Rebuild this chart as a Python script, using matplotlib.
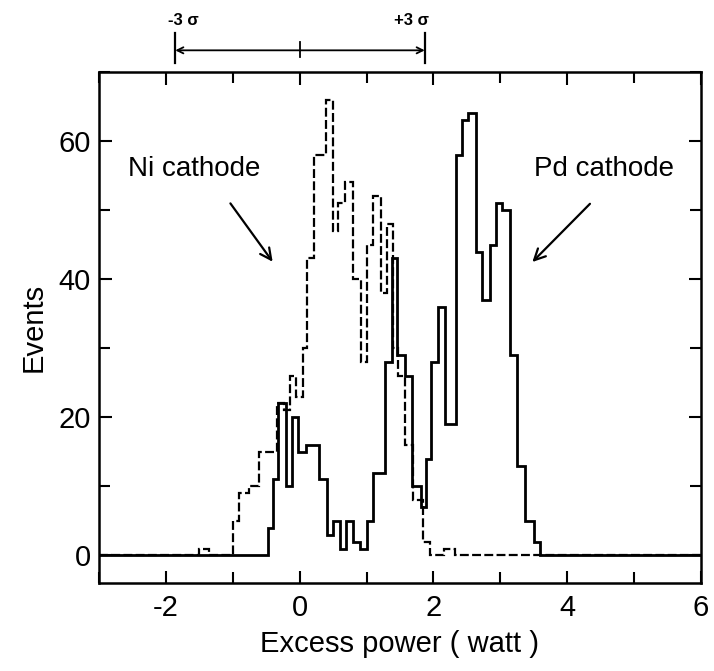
import matplotlib
matplotlib.use("Agg")
import matplotlib.pyplot as plt
import matplotlib.transforms as mtransforms
from matplotlib.ticker import MultipleLocator

plt.rcParams['font.family'] = ['Liberation Sans', 'DejaVu Sans']
plt.rcParams['axes.unicode_minus'] = False

# Ni cathode histogram (dashed) - bin edges in watt, counts per bin
ni_edges = [-3.0, -1.50, -1.36, -1.00, -0.90, -0.76, -0.61, -0.34, -0.24, -0.15,
            -0.05, 0.05, 0.11, 0.21, 0.40, 0.50, 0.58, 0.68, 0.80, 0.92,
            1.00, 1.09, 1.21, 1.30, 1.40, 1.47, 1.57, 1.70, 1.85, 1.95,
            2.16, 2.33, 6.0]
ni_counts = [0, 1, 0, 5, 9, 10, 15, 22, 21, 26,
             23, 30, 43, 58, 66, 47, 51, 54, 40, 28,
             45, 52, 38, 48, 30, 26, 16, 8, 2, 0,
             1, 0]

# Pd cathode histogram (solid)
pd_edges = [-3.0, -0.48, -0.40, -0.32, -0.21, -0.11, -0.02, 0.10, 0.29, 0.41,
            0.50, 0.60, 0.70, 0.80, 0.90, 1.01, 1.10, 1.28, 1.38, 1.46,
            1.57, 1.68, 1.81, 1.89, 1.96, 2.07, 2.18, 2.34, 2.42, 2.51,
            2.64, 2.72, 2.84, 2.93, 3.03, 3.15, 3.25, 3.37, 3.50, 3.60, 6.0]
pd_counts = [0, 4, 11, 22, 10, 20, 15, 16, 11, 3,
             5, 1, 5, 2, 1, 5, 12, 28, 43, 29,
             26, 10, 7, 14, 28, 36, 19, 58, 63, 64,
             44, 37, 45, 51, 50, 29, 13, 5, 2, 0]

sigma_lo, sigma_hi = -1.86, 1.87

fig = plt.figure(figsize=(7.14, 6.71), dpi=100)
ax = fig.add_axes([0.1387, 0.1311, 0.843, 0.7616])

ax.stairs(ni_counts, ni_edges, baseline=None, color='black', lw=1.6,
          linestyle=(0, (4, 1.5)))
ax.stairs(pd_counts, pd_edges, baseline=None, color='black', lw=2.0)

ax.set_xlim(-3, 6)
ax.set_ylim(-4, 70)
ax.xaxis.set_major_locator(MultipleLocator(2))
ax.xaxis.set_minor_locator(MultipleLocator(1))
ax.yaxis.set_major_locator(MultipleLocator(20))
ax.yaxis.set_minor_locator(MultipleLocator(10))
ax.tick_params(which='both', direction='in', top=True, right=True,
               width=1.5, labelsize=21)
ax.tick_params(which='major', length=9)
ax.tick_params(which='minor', length=8)
ax.tick_params(axis='x', pad=8)
ax.tick_params(axis='y', pad=6)
for s in ax.spines.values():
    s.set_linewidth(1.8)

ax.set_xlabel('Excess power ( watt )', fontsize=21, labelpad=6)
ax.set_ylabel('Events', fontsize=21, labelpad=8)

# labels with arrows
ax.text(-1.57, 56, 'Ni cathode', fontsize=20, ha='center', va='center')
ax.text(4.55, 56, 'Pd cathode', fontsize=20, ha='center', va='center')
ax.annotate('', xy=(-0.38, 42.2), xytext=(-1.06, 51.3),
            arrowprops=dict(arrowstyle='->', lw=1.6, color='black',
                            mutation_scale=20))
ax.annotate('', xy=(3.45, 42.2), xytext=(4.37, 51.2),
            arrowprops=dict(arrowstyle='->', lw=1.6, color='black',
                            mutation_scale=20))

# +-3 sigma bracket above the axes
trans = mtransforms.blended_transform_factory(ax.transData, fig.transFigure)
y_br = 0.925
ax.annotate('', xy=(sigma_lo, y_br), xytext=(sigma_hi, y_br),
            xycoords=trans, textcoords=trans,
            arrowprops=dict(arrowstyle='<->', lw=1.3, color='black',
                            shrinkA=0, shrinkB=0, mutation_scale=11),
            annotation_clip=False)
for xv in (sigma_lo, sigma_hi):
    ax.plot([xv, xv], [0.906, 0.951], color='black', lw=1.6,
            transform=trans, clip_on=False)
ax.plot([0, 0], [0.915, 0.937], color='black', lw=1.3,
        transform=trans, clip_on=False)
ax.text(sigma_lo + 0.12, 0.970, '-3 σ', transform=trans, fontsize=12,
        ha='center', va='center', fontweight='bold')
ax.text(sigma_hi - 0.2, 0.970, '+3 σ', transform=trans, fontsize=12,
        ha='center', va='center', fontweight='bold')

fig.savefig('out.png', dpi=100)
